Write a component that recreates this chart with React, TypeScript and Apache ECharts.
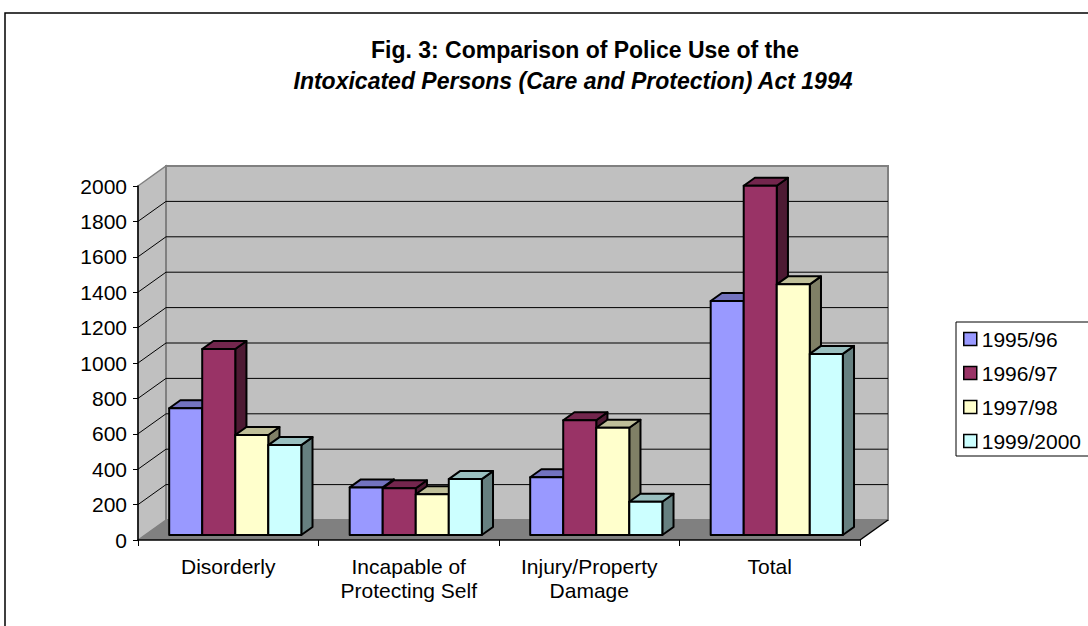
import React, { useEffect, useRef } from "react";
import * as echarts from "echarts";

const categories = ["Disorderly", "Incapable of\nProtecting Self", "Injury/Property\nDamage", "Total"];
const seriesNames = ["1995/96", "1996/97", "1997/98", "1999/2000"];
const values1995 = [716, 269, 326, 1322];
const values1996 = [1051, 264, 648, 1973];
const values1997 = [565, 230, 606, 1416];
const values1999 = [508, 316, 188, 1023];
const seriesValues = [values1995, values1996, values1997, values1999];
const frontColors = ["#9999FF", "#993366", "#FFFFCC", "#CCFFFF"];
const topColors = ["#7373BF", "#73264D", "#BFBF99", "#99BFBF"];
const sideColors = ["#4D4D80", "#4D1A33", "#808066", "#668080"];
const yTicks = [0, 200, 400, 600, 800, 1000, 1200, 1400, 1600, 1800, 2000];

const FONT = 'Arial, "Liberation Sans", sans-serif';
const DX = 28; // full depth x offset
const DY = 20; // full depth y offset (upwards)
const F0 = 0.25; // bar front depth fraction
const F1 = 0.65; // bar back depth fraction
const BAR_FRAC = 0.183;

export default function App() {
  const ref = useRef<HTMLDivElement>(null);
  useEffect(() => {
    if (!ref.current) return;
    const chart = echarts.init(ref.current, undefined, { renderer: "svg" });

    const frameSeries: any = {
      type: "custom",
      name: "frame",
      z: 1,
      silent: true,
      data: [[0, 0]],
      encode: { x: 0, y: 1 },
      renderItem: (params: any, api: any) => {
        const cs = params.coordSys;
        const xl = cs.x;
        const xr = cs.x + cs.width;
        const y0 = api.coord([0, 0])[1];
        const yTop = api.coord([0, 2000])[1];
        const children: any[] = [];
        children.push({
          type: "polygon",
          shape: { points: [[xl, yTop], [xl + DX, yTop - DY], [xl + DX, y0 - DY], [xl, y0]] },
          style: { fill: "#C0C0C0", stroke: "#808080", lineWidth: 1.5 },
        });
        children.push({
          type: "rect",
          shape: { x: xl + DX, y: yTop - DY, width: xr - xl, height: y0 - yTop },
          style: { fill: "#C0C0C0", stroke: "#808080", lineWidth: 2 },
        });
        children.push({
          type: "polygon",
          shape: { points: [[xl, y0], [xr, y0], [xr + DX, y0 - DY], [xl + DX, y0 - DY]] },
          style: { fill: "#808080", stroke: "none" },
        });
        yTicks.forEach((v) => {
          if (v === 0 || v === 2000) return;
          const y = api.coord([0, v])[1];
          children.push({
            type: "line",
            shape: { x1: xl, y1: y, x2: xl + DX, y2: y - DY },
            style: { stroke: "#000", lineWidth: 1 },
          });
          children.push({
            type: "line",
            shape: { x1: xl + DX, y1: y - DY, x2: xr + DX, y2: y - DY },
            style: { stroke: "#000", lineWidth: 1 },
          });
        });
        children.push({
          type: "line",
          shape: { x1: xr, y1: y0, x2: xr + DX, y2: y0 - DY },
          style: { stroke: "#000", lineWidth: 1.5 },
        });
        return { type: "group", children };
      },
    };

    const barSeries = seriesNames.map((name, s) => ({
      type: "custom",
      name,
      z: 2,
      itemStyle: { color: frontColors[s] },
      data: categories.map((_, i) => [i, seriesValues[s][i]]),
      encode: { x: 0, y: 1 },
      renderItem: (params: any, api: any) => {
        const i = api.value(0);
        const v = api.value(1);
        const base = api.coord([i, 0]);
        const top = api.coord([i, v]);
        const band = api.size([1, 0])[0];
        const w = band * BAR_FRAC;
        const x0 = base[0] - 2 * w + s * w + DX * F0;
        const x1 = x0 + w;
        const yb = base[1] - DY * F0;
        const yt = top[1] - DY * F0;
        const dx = DX * (F1 - F0);
        const dy = DY * (F1 - F0);
        const st = { stroke: "#000", lineWidth: 2, lineJoin: "round" };
        return {
          type: "group",
          children: [
            {
              type: "polygon",
              shape: { points: [[x1, yt], [x1 + dx, yt - dy], [x1 + dx, yb - dy], [x1, yb]] },
              style: { ...st, fill: sideColors[s] },
            },
            {
              type: "polygon",
              shape: { points: [[x0, yt], [x0 + dx, yt - dy], [x1 + dx, yt - dy], [x1, yt]] },
              style: { ...st, fill: topColors[s] },
            },
            {
              type: "rect",
              shape: { x: x0, y: yt, width: w, height: yb - yt },
              style: { ...st, fill: frontColors[s] },
            },
          ],
        };
      },
    }));

    const option: any = {
      animation: false,
      backgroundColor: "#fff",
      title: [
        {
          text: "Fig. 3: Comparison of Police Use of the",
          left: 580,
          top: 33,
          textAlign: "center",
          textStyle: { fontFamily: FONT, fontSize: 23, fontWeight: "bold", color: "#000" },
        },
        {
          text: "Intoxicated Persons (Care and Protection) Act 1994",
          left: 568,
          top: 64,
          textAlign: "center",
          textStyle: { fontFamily: FONT, fontSize: 23, fontWeight: "bold", fontStyle: "italic", color: "#000" },
        },
      ],
      graphic: [
        {
          type: "rect",
          z: -1,
          shape: { x: 5, y: 13, width: 1200, height: 700 },
          style: { fill: "#fff", stroke: "#000", lineWidth: 1.5 },
        },
        {
          type: "rect",
          z: 0,
          shape: { x: 956, y: 322, width: 200, height: 134 },
          style: { fill: "#fff", stroke: "#000", lineWidth: 1 },
        },
      ],
      legend: {
        orient: "vertical",
        left: 963,
        top: 328,
        itemWidth: 13,
        itemHeight: 13,
        itemGap: 12,
        padding: 0,
        selectedMode: false,
        textStyle: { fontFamily: FONT, fontSize: 21, color: "#000", lineHeight: 22 },
        data: seriesNames.map((n, s) => ({
          name: n,
          icon: "rect",
          itemStyle: { color: frontColors[s], borderColor: "#000", borderWidth: 1.5 },
        })),
      },
      grid: { left: 138, top: 186, width: 722, height: 354, containLabel: false },
      xAxis: {
        type: "category",
        data: categories,
        z: 3,
        axisLine: { show: true, lineStyle: { color: "#000", width: 1.5 } },
        axisTick: { show: true, length: 6, lineStyle: { color: "#000" } },
        axisLabel: {
          interval: 0,
          margin: 14,
          fontFamily: FONT,
          fontSize: 21,
          lineHeight: 24,
          color: "#000",
        },
        splitLine: { show: false },
      },
      yAxis: {
        type: "value",
        min: 0,
        max: 2000,
        interval: 200,
        z: 3,
        axisLine: { show: true, lineStyle: { color: "#000", width: 1.5 } },
        axisTick: { show: true, length: 5, lineStyle: { color: "#000" } },
        axisLabel: {
          margin: 11,
          fontFamily: FONT,
          fontSize: 21,
          color: "#000",
          formatter: (v: number) => String(v),
        },
        splitLine: { show: false },
      },
      series: [frameSeries, ...barSeries],
    };
    chart.setOption(option);
    return () => chart.dispose();
  }, []);
  return (
    <div
      ref={ref}
      style={{ position: "absolute", left: 0, top: 0, width: 1088, height: 626, background: "#fff" }}
    />
  );
}
